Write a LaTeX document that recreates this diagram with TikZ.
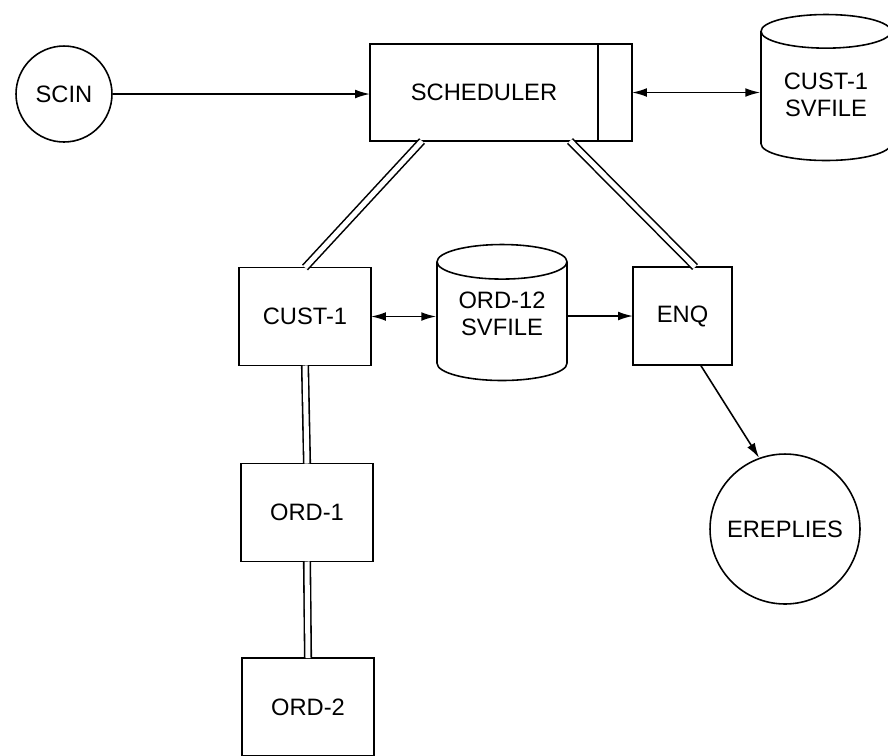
\documentclass[tikz,border=0pt]{standalone}
\usepackage{fontspec}
\setmainfont{Liberation Sans}
\usepackage{tikz}
\usetikzlibrary{
  shapes.geometric,
  arrows.meta,
  positioning
}

\begin{document}
\begin{tikzpicture}[
        x=0.02cm, y=-0.02cm,
        every node/.style={font=\fontsize{13.5}{15}\selectfont},
        box/.style={rectangle, draw, line width=0.9pt, outer sep=0pt, minimum width=2.64cm, minimum height=1.96cm},
        disc/.style={circle, draw, line width=0.9pt, inner sep=0pt},
        svfile/.style={cylinder, shape border rotate=90, aspect=0.35, draw, line width=0.9pt, align=center, minimum width=2.6cm, anchor=shape center},
        arrow/.style={line width=0.9pt, -{Latex[length=8.5pt, width=5pt]}},
        biarrow/.style={line width=0.9pt, {Latex[length=8.5pt, width=5pt]}-{Latex[length=8.5pt, width=5pt]}},
        link/.style={double, line width=0.9pt, double distance=0.1cm}
    ]
    \useasboundingbox (0,0) rectangle (888,755);
    \clip (0,0) rectangle (888,755);

    % Nodes
    \node[disc, minimum size=1.92cm] (scin) at (64,94) {SCIN};
    \node[box, minimum width=4.56cm, minimum height=1.94cm] (scheduler) at (484,92.5) {SCHEDULER};
    \node[box, minimum width=0.68cm, minimum height=1.94cm, right=0pt of scheduler] (schedtail) {};
    \node[svfile, minimum height=2.92cm, text depth=0.2cm] (custfile) at (826,87.5) {CUST-1\\SVFILE};
    \node[box] (cust1) at (305,316.5) {CUST-1};
    \node[svfile, minimum height=2.72cm, text depth=0.45cm] (ordfile) at (502,312.5) {ORD-12\\SVFILE};
    \node[box, minimum width=1.98cm] (enq) at (682.5,316) {ENQ};
    \node[box] (ord1) at (307,512.5) {ORD-1};
    \node[box] (ord2) at (308,707) {ORD-2};
    \node[disc, minimum size=3cm] (ereplies) at (785,529) {EREPLIES};

    % Arrows
    \draw[arrow] (scin) -- (scin -| scheduler.west);
    \draw[biarrow] (schedtail.east) -- (schedtail.east -| custfile.west);
    \draw[biarrow] (cust1.east) -- (cust1.east -| ordfile.west);
    \draw[arrow] (ordfile.east |- enq) -- (enq.west);
    \draw[arrow] ([xshift=0.36cm]enq.south) -- (ereplies.110);

    % Links
    \draw[link] ([xshift=-1.24cm]scheduler.south) -- (cust1.north);
    \draw[link] ([xshift=1.72cm]scheduler.south) -- ([xshift=0.25cm]enq.north);
    \draw[link] (cust1.south) -- (ord1.north);
    \draw[link] (ord1.south) -- (ord2.north);
\end{tikzpicture}
\end{document}
